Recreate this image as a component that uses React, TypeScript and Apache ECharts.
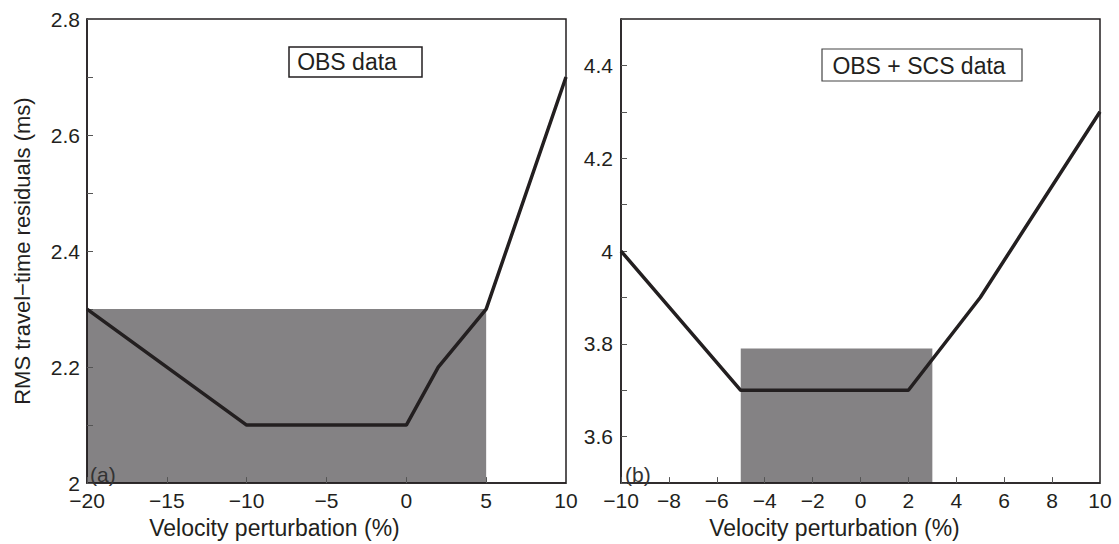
import React, { useEffect, useRef } from "react";
import * as echarts from "echarts";

// Panel (a): OBS data
const xA = [-20, -10, 0, 2, 5, 10];
const yA = [2.3, 2.1, 2.1, 2.2, 2.3, 2.7];
const shadeA = [-20, 2.0, 5, 2.3]; // x0, y0, x1, y1

// Panel (b): OBS + SCS data
const xB = [-10, -5, 2, 5, 10];
const yB = [4.0, 3.7, 3.7, 3.9, 4.3];
const shadeB = [-5, 3.5, 3, 3.79];

const titleA = "OBS data";
const titleB = "OBS + SCS data";
const yName = "RMS travel\u2212time residuals (ms)";
const xName = "Velocity perturbation (%)";

const FONT = "Liberation Sans, Arial, sans-serif";
const INK = "#231f20";

const fmt = (v: number) => {
  const r = Math.round(v * 10);
  if (r % 2 !== 0) return "";
  return String(r / 10).replace("-", "\u2212");
};
const fmtX = (v: number) => String(Math.round(v)).replace("-", "\u2212");

export default function App() {
  const ref = useRef<HTMLDivElement>(null);
  useEffect(() => {
    if (!ref.current) return;
    const chart = echarts.init(ref.current, undefined, { renderer: "svg" });
    const axisCommon = {
      z: 3,
      axisLine: { show: true, onZero: false, lineStyle: { color: INK, width: 1.5 } },
      axisTick: { show: true, inside: true, length: 6, lineStyle: { color: "#555", width: 1 } },
      splitLine: { show: false },
      axisLabel: { color: INK, fontSize: 21, fontFamily: FONT },
    };
    const rectRender = (params: any, api: any) => {
      const p0 = api.coord([api.value(0), api.value(3)]);
      const p1 = api.coord([api.value(2), api.value(1)]);
      return {
        type: "rect",
        shape: { x: p0[0], y: p0[1], width: p1[0] - p0[0], height: p1[1] - p0[1] },
        style: { fill: "#848284" },
      };
    };
    const nameStyle = { color: INK, fontSize: 22, fontFamily: FONT };
    const xNameStyle = { color: INK, fontSize: 23, fontFamily: FONT };
    chart.setOption({
      animation: false,
      grid: [
        { left: 87, top: 19, width: 479, height: 471, show: true, borderColor: INK, borderWidth: 1.5, z: 3 },
        { left: 621, top: 19, width: 479, height: 470, show: true, borderColor: INK, borderWidth: 1.5, z: 3 },
      ],
      xAxis: [
        {
          ...axisCommon,
          type: "value", gridIndex: 0, min: -20, max: 10, interval: 5,
          axisLabel: { ...axisCommon.axisLabel, margin: 7, formatter: fmtX },
          name: xName, nameLocation: "middle", nameGap: 27,
          nameTextStyle: { ...xNameStyle, verticalAlign: "top", padding: [0, 104, 0, 0] },
        },
        {
          ...axisCommon,
          type: "value", gridIndex: 1, min: -10, max: 10, interval: 2,
          axisLabel: { ...axisCommon.axisLabel, margin: 7, formatter: fmtX },
          name: xName, nameLocation: "middle", nameGap: 27,
          nameTextStyle: { ...xNameStyle, verticalAlign: "top", padding: [0, 52, 0, 0] },
        },
      ],
      yAxis: [
        {
          ...axisCommon,
          type: "value", gridIndex: 0, min: 2, max: 2.8, interval: 0.1,
          axisLabel: { ...axisCommon.axisLabel, margin: 7, formatter: fmt },
          name: yName, nameLocation: "middle", nameGap: 54,
          nameTextStyle: nameStyle,
        },
        {
          ...axisCommon,
          type: "value", gridIndex: 1, min: 3.5, max: 4.5, interval: 0.1,
          axisLabel: { ...axisCommon.axisLabel, margin: 8, formatter: fmt },
        },
      ],
      series: [
        {
          type: "custom", xAxisIndex: 0, yAxisIndex: 0, z: 1, silent: true,
          renderItem: rectRender, encode: { x: [0, 2], y: [1, 3] },
          data: [shadeA],
        },
        {
          type: "custom", xAxisIndex: 1, yAxisIndex: 1, z: 1, silent: true,
          renderItem: rectRender, encode: { x: [0, 2], y: [1, 3] },
          data: [shadeB],
        },
        {
          type: "line", xAxisIndex: 0, yAxisIndex: 0, z: 4, symbol: "none",
          lineStyle: { color: INK, width: 3.5 },
          data: xA.map((x, i) => [x, yA[i]]),
        },
        {
          type: "line", xAxisIndex: 1, yAxisIndex: 1, z: 4, symbol: "none",
          lineStyle: { color: INK, width: 3.5 },
          data: xB.map((x, i) => [x, yB[i]]),
        },
      ],
      graphic: [
        {
          type: "rect", z: 10, shape: { x: 289, y: 47, width: 133, height: 30 },
          style: { fill: "#fff", stroke: INK, lineWidth: 1.5 },
        },
        {
          type: "text", z: 11, x: 347, y: 62,
          style: { text: titleA, fill: INK, font: `23px ${FONT}`, align: "center", verticalAlign: "middle" },
        },
        {
          type: "rect", z: 10, shape: { x: 822, y: 49, width: 200, height: 32 },
          style: { fill: "#fff", stroke: "#444", lineWidth: 1.2 },
        },
        {
          type: "text", z: 11, x: 919, y: 65.5,
          style: { text: titleB, fill: INK, font: `23px ${FONT}`, align: "center", verticalAlign: "middle" },
        },
        {
          type: "text", z: 11, x: 90, y: 474,
          style: { text: "(a)", fill: "#333", font: `21px ${FONT}`, align: "left", verticalAlign: "middle" },
        },
        {
          type: "text", z: 11, x: 625, y: 474,
          style: { text: "(b)", fill: "#333", font: `21px ${FONT}`, align: "left", verticalAlign: "middle" },
        },
      ],
    });
    return () => chart.dispose();
  }, []);
  return <div ref={ref} style={{ width: 1119, height: 544, position: "absolute", left: 0, top: 0 }} />;
}
